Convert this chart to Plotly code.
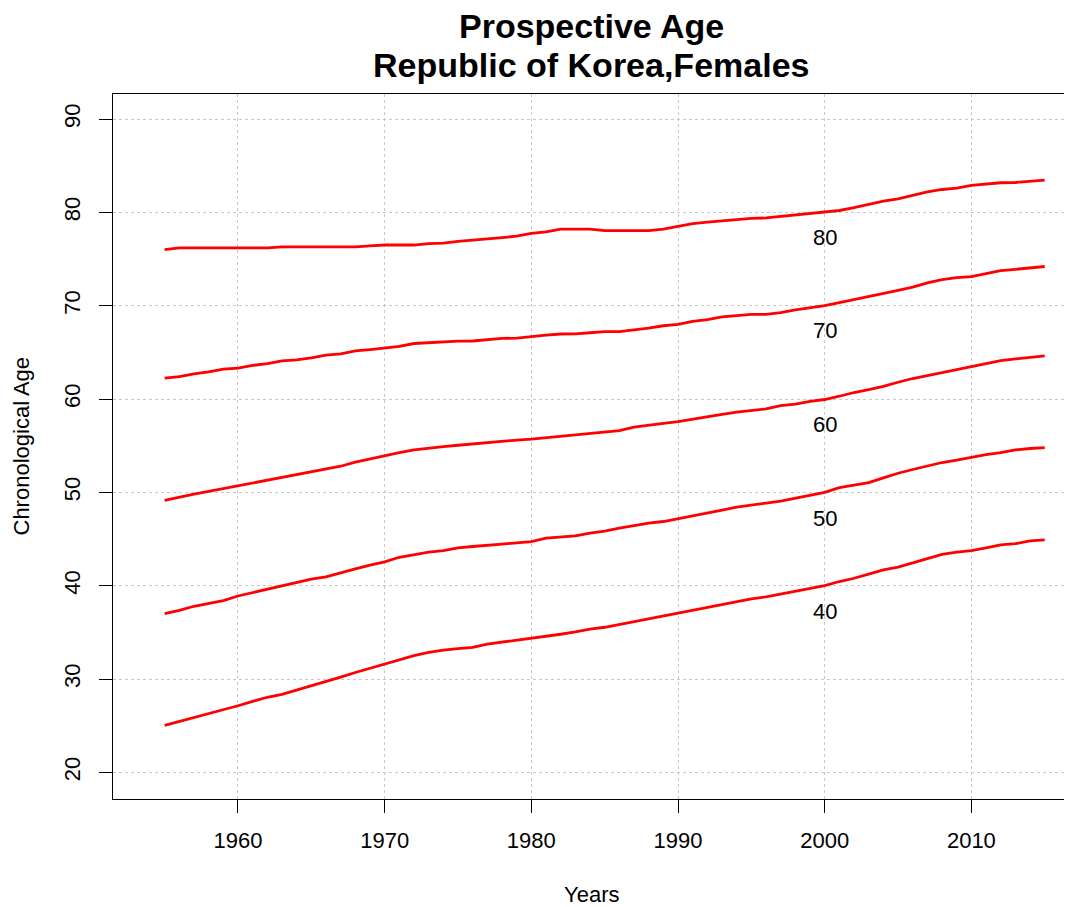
import plotly.graph_objects as go

years = list(range(1955, 2016))

age80 = [76.0, 76.2, 76.2, 76.2, 76.2, 76.2, 76.2, 76.2, 76.3, 76.3,
         76.3, 76.3, 76.3, 76.3, 76.4, 76.5, 76.5, 76.5, 76.65, 76.7,
         76.9, 77.0, 77.15, 77.3, 77.45, 77.75, 77.9, 78.2, 78.2, 78.2,
         78.05, 78.05, 78.05, 78.05, 78.2, 78.5, 78.8, 78.95, 79.1, 79.25,
         79.35, 79.4, 79.55, 79.7, 79.85, 80.0, 80.2, 80.5, 80.85, 81.2,
         81.45, 81.85, 82.2, 82.45, 82.6, 82.9, 83.05, 83.17, 83.2, 83.3,
         83.46]

age70 = [62.25, 62.4, 62.7, 62.9, 63.2, 63.3, 63.6, 63.8, 64.1, 64.2,
         64.4, 64.7, 64.85, 65.15, 65.3, 65.45, 65.65, 65.95, 66.05, 66.1,
         66.2, 66.22, 66.35, 66.5, 66.52, 66.7, 66.85, 66.97, 66.98, 67.1,
         67.22, 67.23, 67.4, 67.6, 67.85, 68.0, 68.33, 68.5, 68.8, 68.95,
         69.08, 69.08, 69.25, 69.55, 69.75, 70.0, 70.33, 70.65, 70.95, 71.25,
         71.65, 72.0, 72.45, 72.8, 73.0, 73.11, 73.4, 73.75, 73.9, 74.05,
         74.2]

age60 = [49.15, 49.5, 49.8, 50.1, 50.4, 50.7, 51.0, 51.3, 51.6, 51.9,
         52.2, 52.5, 52.8, 53.25, 53.6, 53.9, 54.25, 54.55, 54.75, 54.9,
         55.05, 55.2, 55.3, 55.45, 55.6, 55.7, 55.85, 56.0, 56.15, 56.3,
         56.45, 56.62, 56.98, 57.15, 57.4, 57.58, 57.85, 58.15, 58.35, 58.6,
         58.75, 58.95, 59.3, 59.45, 59.75, 59.95, 60.3, 60.7, 61.0, 61.35,
         61.8, 62.2, 62.5, 62.85, 63.15, 63.47, 63.8, 64.12, 64.3, 64.5,
         64.62]

age50 = [37.0, 37.35, 37.8, 38.1, 38.4, 38.9, 39.25, 39.6, 40.0, 40.3,
         40.7, 40.95, 41.4, 41.8, 42.2, 42.55, 43.05, 43.35, 43.6, 43.75,
         44.05, 44.2, 44.3, 44.45, 44.6, 44.73, 45.1, 45.2, 45.35, 45.63,
         45.85, 46.17, 46.45, 46.7, 46.88, 47.17, 47.5, 47.8, 48.1, 48.42,
         48.6, 48.85, 49.05, 49.38, 49.7, 50.0, 50.5, 50.8, 51.05, 51.55,
         52.05, 52.45, 52.8, 53.2, 53.45, 53.77, 54.05, 54.25, 54.55, 54.7,
         54.8]

age40 = [25.03, 25.45, 25.9, 26.25, 26.7, 27.14, 27.6, 28.05, 28.35, 28.8,
         29.3, 29.75, 30.2, 30.7, 31.15, 31.6, 32.05, 32.5, 32.85, 33.1,
         33.25, 33.4, 33.75, 33.95, 34.2, 34.35, 34.6, 34.8, 35.05, 35.35,
         35.55, 35.85, 36.15, 36.46, 36.75, 37.07, 37.35, 37.65, 38.0, 38.3,
         38.6, 38.8, 39.1, 39.4, 39.7, 40.0, 40.45, 40.8, 41.25, 41.7,
         42.0, 42.45, 42.9, 43.35, 43.6, 43.77, 44.05, 44.38, 44.5, 44.8,
         44.92]

series = [age40, age50, age60, age70, age80]
label_texts = ["40", "50", "60", "70", "80"]
label_values = [37.25, 47.2, 57.3, 67.3, 77.3]
label_year = 2000

x_ticks = [1960, 1970, 1980, 1990, 2000, 2010]
y_ticks = [20, 30, 40, 50, 60, 70, 80, 90]

FONT = "Liberation Sans, Arial, Helvetica, sans-serif"

fig = go.Figure()
for s in series:
    fig.add_trace(go.Scatter(x=years, y=s, mode="lines",
                             line=dict(color="#ff0000", width=2.8),
                             showlegend=False, hoverinfo="skip"))

for t, v in zip(label_texts, label_values):
    fig.add_annotation(x=label_year, y=v, text=t, showarrow=False,
                       xanchor="center", yanchor="middle",
                       font=dict(family=FONT, size=22, color="black"))

# Title lines
fig.add_annotation(xref="paper", yref="paper", x=0.4985, y=1, yshift=68,
                   text="<b>Prospective Age</b>", showarrow=False,
                   xanchor="center", yanchor="middle",
                   font=dict(family=FONT, size=34, color="black"))
fig.add_annotation(xref="paper", yref="paper", x=0.4985, y=1, yshift=29,
                   text="<b>Republic of Korea,Females</b>", showarrow=False,
                   xanchor="center", yanchor="middle",
                   font=dict(family=FONT, size=34, color="black"))
# Axis titles
fig.add_annotation(xref="paper", yref="paper", x=0.4985, y=0, yshift=-95,
                   text="Years", showarrow=False, xanchor="center", yanchor="middle",
                   font=dict(family=FONT, size=22, color="black"))
fig.add_annotation(xref="paper", yref="paper", x=0, y=0.5, xshift=-92,
                   text="Chronological Age", showarrow=False, textangle=-90,
                   xanchor="center", yanchor="middle",
                   font=dict(family=FONT, size=22, color="black"))

# The page body has an 8px default margin, so the figure is sized to fit
fig.update_layout(
    width=1064, height=899,
    margin=dict(l=105, r=0, t=86, b=108),
    paper_bgcolor="white", plot_bgcolor="white",
    font=dict(family=FONT, size=22, color="black"),
    xaxis=dict(range=[1951.48, 2016.86], tickvals=x_ticks,
               showgrid=True, gridcolor="#c8c8c8", griddash="dot", gridwidth=1,
               zeroline=False, showline=True, linecolor="black", linewidth=1.3,
               mirror=True, ticks="outside", ticklen=13, tickcolor="black",
               tickwidth=1.3, tickfont=dict(family=FONT, size=22, color="black"),
               ticklabelstandoff=8),
    yaxis=dict(range=[17.15, 92.68], tickvals=y_ticks,
               showgrid=True, gridcolor="#c8c8c8", griddash="dot", gridwidth=1,
               zeroline=False, showline=True, linecolor="black", linewidth=1.3,
               mirror=False, ticks="outside", ticklen=13, tickcolor="black",
               tickwidth=1.3, tickangle=-90,
               tickfont=dict(family=FONT, size=22, color="black"),
               ticklabelstandoff=10),
)

fig.write_html("out.html")
